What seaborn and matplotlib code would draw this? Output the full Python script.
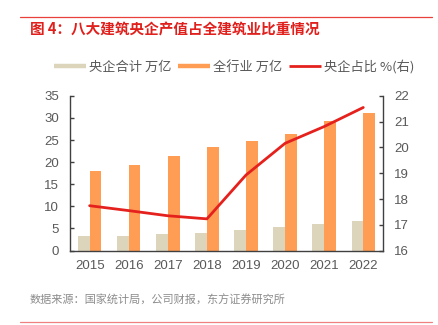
import numpy as np
import pandas as pd
import matplotlib
matplotlib.use("Agg")
import matplotlib.pyplot as plt
from matplotlib.lines import Line2D
from matplotlib.ticker import MultipleLocator, FixedLocator
import seaborn as sns

years = ["2015", "2016", "2017", "2018", "2019", "2020", "2021", "2022"]
soe_total = [3.21, 3.40, 3.71, 4.05, 4.70, 5.32, 6.10, 6.72]
industry_total = [18.08, 19.36, 21.40, 23.51, 24.84, 26.39, 29.31, 31.20]
soe_share = [17.74, 17.55, 17.35, 17.23, 18.93, 20.16, 20.81, 21.55]
series_names = ["央企合计 万亿", "全行业 万亿", "央企占比 %(右)"]
title = "图 4：八大建筑央企产值占全建筑业比重情况"
source = "数据来源：国家统计局，公司财报，东方证券研究所"

c_beige = "#DDD4BC"
c_orange = "#FF9D55"
c_red = "#E5211D"
c_axis = "#404040"
c_text = "#595959"

sns.set_theme(style="white")
plt.rcParams["font.family"] = ["Noto Sans CJK SC", "DejaVu Sans"]

df = pd.DataFrame({
    "year": years * 2,
    "value": soe_total + industry_total,
    "series": [series_names[0]] * len(years) + [series_names[1]] * len(years),
})

fig = plt.figure(figsize=(4.38, 3.25), dpi=100)
ax = fig.add_axes([0.160, 0.229, 0.714, 0.476])

sns.barplot(data=df, x="year", y="value", hue="series",
            palette=[c_beige, c_orange], width=0.6, saturation=1,
            ax=ax, legend=False, edgecolor="none")
ax.set_xlim(-0.5, len(years) - 0.5)
ax.set_ylim(0, 35)
ax.yaxis.set_major_locator(MultipleLocator(5))

ax2 = ax.twinx()
sns.lineplot(x=np.arange(len(years)), y=soe_share, ax=ax2, color=c_red,
             linewidth=2.0, legend=False)
ax2.set_ylim(16, 22)
ax2.yaxis.set_major_locator(MultipleLocator(1))
ax2.set_xlim(-0.5, len(years) - 0.5)

tick_font = dict(family=["Liberation Sans", "DejaVu Sans"], size=9.5)
for a in (ax, ax2):
    a.set_xlabel("")
    a.set_ylabel("")
    a.spines["top"].set_visible(False)
    for s in ("left", "right", "bottom"):
        a.spines[s].set_color(c_axis)
        a.spines[s].set_linewidth(1.0)
    a.grid(False)

ax.spines["right"].set_visible(False)
ax2.spines["left"].set_visible(False)
ax2.spines["bottom"].set_visible(False)

ax.set_xticks(range(len(years)))
ax.set_xticklabels(years)
ax.xaxis.set_minor_locator(FixedLocator(np.arange(0.5, len(years) - 0.5, 1)))
ax.tick_params(axis="x", which="major", length=0, pad=7, colors=c_text)
ax.tick_params(axis="x", which="minor", direction="in", length=3, color=c_axis, width=1)
ax.tick_params(axis="y", direction="in", length=3, color=c_axis, width=1, pad=8, colors=c_text)
ax2.tick_params(axis="y", direction="in", length=3, color=c_axis, width=1, pad=8, colors=c_text)
for lab in ax.get_xticklabels() + ax.get_yticklabels() + ax2.get_yticklabels():
    lab.set_fontfamily(tick_font["family"])
    lab.set_fontsize(tick_font["size"])
    lab.set_color(c_text)

handles = [
    Line2D([0], [0], color=c_beige, lw=3.2, solid_capstyle="butt"),
    Line2D([0], [0], color=c_orange, lw=3.2, solid_capstyle="butt"),
    Line2D([0], [0], color=c_red, lw=2.0, solid_capstyle="butt"),
]
leg = fig.legend(handles, series_names, loc="center", bbox_to_anchor=(0.535, 0.794),
                 ncol=3, frameon=False, fontsize=9.5, handlelength=2.4,
                 handletextpad=0.25, columnspacing=0.5, borderaxespad=0)
for t in leg.get_texts():
    t.set_color(c_text)

# header / footer decorations
fig.add_artist(Line2D([20 / 438, 432 / 438], [1 - 17 / 325] * 2, color="#E8403A", lw=0.9))
fig.text(30 / 438, 1 - 30 / 325, title, color="#E0201C", fontsize=10.5,
         fontweight="bold", ha="left", va="center")
fig.text(30 / 438, 1 - 300 / 325, source, color="#8C8C8C", fontsize=8,
         ha="left", va="center")
fig.add_artist(Line2D([20 / 438, 432 / 438], [1 - 322 / 325] * 2, color="#F08080", lw=0.9))

fig.savefig("out.png", dpi=100)
